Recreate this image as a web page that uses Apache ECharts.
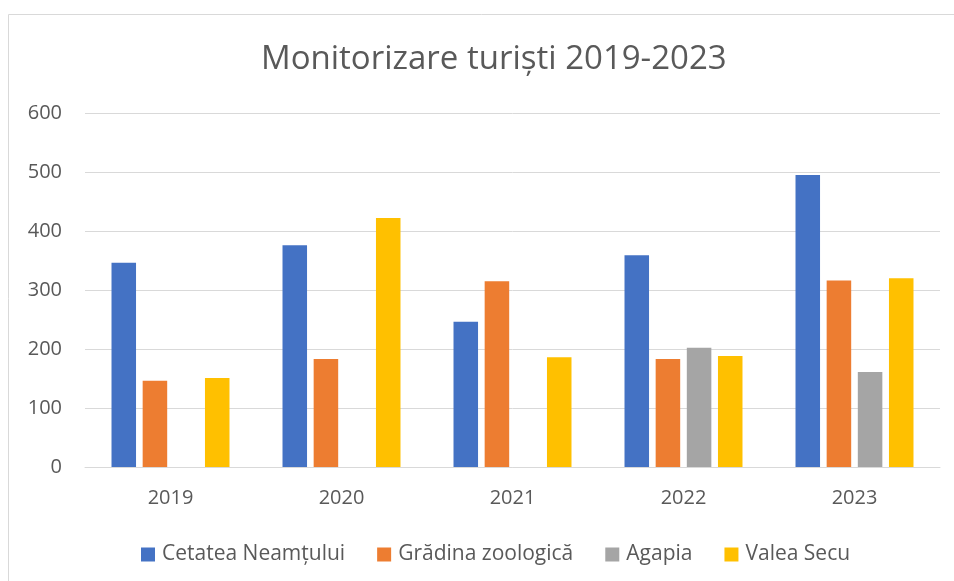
<!DOCTYPE html>
<html>
<head>
<meta charset="utf-8">
<title>Monitorizare turiști 2019-2023</title>
<script src="https://cdn.jsdelivr.net/npm/echarts@6/dist/echarts.min.js"></script>
<style>
  html, body { margin: 0; padding: 0; background: #fff; }
  #chart { width: 954px; height: 581px; }
</style>
</head>
<body>
<div id="chart"></div>
<script>
// datele graficului
const years = ['2019', '2020', '2021', '2022', '2023'];
const cetateaNeamtului = [346, 376, 246, 359, 495];
const gradinaZoologica = [146, 183, 315, 183, 316];
const agapia = [null, null, null, 202, 161];
const valeaSecu = [151, 422, 186, 188, 320];
const yTicks = [0, 100, 200, 300, 400, 500, 600];

const textColor = '#595959';
const fontFamily = '"Open Sans", "Noto Sans", sans-serif';

const chart = echarts.init(document.getElementById('chart'));

function bar(name, data, color) {
  return {
    name,
    type: 'bar',
    data,
    barGap: '27%',
    barCategoryGap: '31%',
    itemStyle: { color },
  };
}

chart.setOption({
  animation: false,
  textStyle: { fontFamily },
  graphic: [
    {
      type: 'rect',
      shape: { x: 8.5, y: 14.5, width: 980, height: 600 },
      style: { fill: 'none', stroke: '#d9d9d9', lineWidth: 1 },
      silent: true,
    },
  ],
  title: {
    text: 'Monitorizare turiști 2019-2023',
    left: 256,
    top: 38,
    textStyle: { color: textColor, fontSize: 33, fontWeight: 'normal', fontFamily },
  },
  legend: {
    bottom: 11,
    left: 136,
    itemWidth: 14,
    itemHeight: 14,
    itemGap: 32,
    icon: 'rect',
    textStyle: { color: textColor, fontSize: 21, fontFamily, padding: [0, 0, 0, 2] },
    data: ['Cetatea Neamțului', 'Grădina zoologică', 'Agapia', 'Valea Secu'],
  },
  grid: { left: 85, right: 14, top: 113, bottom: 114, containLabel: false },
  xAxis: {
    type: 'category',
    data: years,
    axisLine: { lineStyle: { color: '#d9d9d9', width: 1 } },
    axisTick: { show: false },
    axisLabel: { color: textColor, fontSize: 20, margin: 21 },
  },
  yAxis: {
    type: 'value',
    min: yTicks[0],
    max: yTicks[yTicks.length - 1],
    interval: 100,
    axisLine: { show: false },
    axisTick: { show: false },
    axisLabel: { color: textColor, fontSize: 20, margin: 23 },
    splitLine: { lineStyle: { color: '#d9d9d9', width: 1 } },
  },
  series: [
    bar('Cetatea Neamțului', cetateaNeamtului, '#4472C4'),
    bar('Grădina zoologică', gradinaZoologica, '#ED7D31'),
    bar('Agapia', agapia, '#A5A5A5'),
    bar('Valea Secu', valeaSecu, '#FFC000'),
  ],
});

window.addEventListener('resize', () => chart.resize());
</script>
</body>
</html>
